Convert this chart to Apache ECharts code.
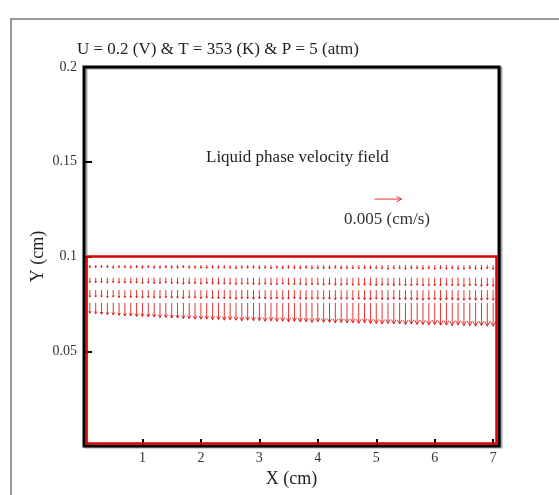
<!DOCTYPE html>
<html>
<head>
<meta charset="utf-8">
<script src="https://cdn.jsdelivr.net/npm/echarts@6/dist/echarts.min.js"></script>
<style>
    html, body { margin: 0; background: #fff; }
    #main { width: 559px; height: 495px; }
</style>
</head>
<body>
<div id="main"></div>
<script>
// vector columns (cm)
const colX = [
    0.1, 0.2, 0.3, 0.4, 0.5, 0.6, 0.7, 0.8, 0.9, 1.0,
    1.1, 1.2, 1.3, 1.4, 1.5, 1.6, 1.7, 1.8, 1.9, 2.0,
    2.1, 2.2, 2.3, 2.4, 2.5, 2.6, 2.7, 2.8, 2.9, 3.0,
    3.1, 3.2, 3.3, 3.4, 3.5, 3.6, 3.7, 3.8, 3.9, 4.0,
    4.1, 4.2, 4.3, 4.4, 4.5, 4.6, 4.7, 4.8, 4.9, 5.0,
    5.1, 5.2, 5.3, 5.4, 5.5, 5.6, 5.7, 5.8, 5.9, 6.0,
    6.1, 6.2, 6.3, 6.4, 6.5, 6.6, 6.7, 6.8, 6.9, 7.0
];
// vector rows (cm)
const rowY = [0.0955, 0.0888, 0.0823, 0.0755];

// downward velocity per row, in 1e-4 cm/s
const vRow1 = [
    5, 5, 5, 5, 6, 5, 5, 6, 5, 6,
    5, 6, 6, 5, 6, 6, 5, 6, 6, 6,
    6, 6, 6, 6, 6, 7, 6, 6, 6, 7,
    6, 7, 6, 7, 6, 7, 7, 6, 7, 7,
    7, 7, 6, 7, 7, 7, 7, 7, 7, 7,
    7, 8, 7, 7, 8, 7, 7, 8, 7, 8,
    7, 8, 7, 8, 8, 7, 8, 8, 7, 8
];
const vRow2 = [
    9, 9, 9, 10, 9, 10, 10, 10, 10, 11,
    10, 11, 11, 10, 11, 11, 12, 11, 11, 12,
    11, 12, 12, 12, 12, 13, 12, 12, 13, 13,
    12, 13, 13, 12, 13, 13, 13, 14, 13, 13,
    14, 13, 14, 14, 13, 14, 14, 14, 14, 15,
    14, 14, 15, 14, 15, 15, 14, 15, 15, 15,
    15, 14, 15, 15, 16, 15, 15, 16, 15, 16
];
const vRow3 = [
    13, 13, 13, 14, 13, 14, 14, 14, 14, 15,
    14, 15, 15, 14, 15, 15, 16, 15, 15, 16,
    15, 16, 16, 16, 16, 17, 16, 16, 17, 16,
    16, 17, 16, 17, 17, 16, 17, 17, 17, 17,
    17, 17, 18, 17, 17, 18, 17, 18, 18, 17,
    18, 18, 17, 18, 18, 18, 18, 19, 18, 18,
    19, 18, 18, 19, 19, 18, 19, 19, 18, 19
];
const vRow4 = [
    19, 20, 21, 22, 22, 23, 24, 24, 25, 25,
    26, 26, 27, 27, 28, 28, 29, 29, 30, 30,
    30, 31, 31, 32, 31, 32, 33, 32, 33, 33,
    34, 33, 34, 34, 35, 34, 35, 35, 36, 35,
    36, 36, 37, 36, 37, 37, 38, 37, 38, 38,
    39, 38, 39, 39, 40, 39, 40, 40, 41, 40,
    41, 41, 42, 41, 42, 42, 43, 42, 43, 43
];
const vRows = [vRow1, vRow2, vRow3, vRow4];

// reference vector: x, y, u, v
const refVector = [4.97, 0.1303, 0.005, 0];

const domainX = [0, 7.1];
const domainY = [0, 0.1];

const xTicks = [1, 2, 3, 4, 5, 6, 7];
const yTicks = [0.05, 0.1, 0.15];
const yLabels = [0.05, 0.1, 0.15, 0.2];

const PX_PER_VEL = 27 / 0.005;   // 0.005 cm/s reference arrow = 27 px
const RED = 'rgba(220, 0, 0, 0.8)';
const FONT = 'Liberation Serif';

const vectors = [];
rowY.forEach(function (y, r) {
    colX.forEach(function (x, i) {
        vectors.push([x, y, 0, -vRows[r][i] * 1e-4]);
    });
});

function renderArrow(params, api) {
    const p = api.coord([api.value(0), api.value(1)]);
    const dx = api.value(2) * PX_PER_VEL;
    const dy = -api.value(3) * PX_PER_VEL;
    const len = Math.sqrt(dx * dx + dy * dy);
    const ux = dx / len, uy = dy / len;
    const tx = p[0] + dx, ty = p[1] + dy;
    const h = Math.max(1.5, Math.min(5, len * 0.2));
    const w = h * 0.55;
    const style = { stroke: RED, fill: null, lineWidth: 1 };
    return {
        type: 'group',
        children: [
            { type: 'line', shape: { x1: p[0], y1: p[1], x2: tx, y2: ty }, style: style },
            {
                type: 'polyline',
                shape: {
                    points: [
                        [tx - ux * h - uy * w, ty - uy * h + ux * w],
                        [tx, ty],
                        [tx - ux * h + uy * w, ty - uy * h - ux * w]
                    ]
                },
                style: style
            }
        ]
    };
}

// red domain boundary, drawn just inside the black frame
function renderDomain(params, api) {
    const a = api.coord([domainX[0], domainY[0]]);
    const b = api.coord([domainX[1], domainY[1]]);
    const inset = 2.5;
    return {
        type: 'polyline',
        shape: {
            points: [
                [a[0] + inset, b[1]],
                [b[0] - inset, b[1]],
                [b[0] - inset, a[1] - inset],
                [a[0] + inset, a[1] - inset],
                [a[0] + inset, b[1]]
            ]
        },
        style: { stroke: '#d80000', fill: null, lineWidth: 2.5 }
    };
}

const chart = echarts.init(document.getElementById('main'));

chart.setOption({
    animation: false,
    backgroundColor: '#fff',
    textStyle: { fontFamily: FONT },
    grid: {
        left: 84,
        top: 67,
        right: 60,
        bottom: 49,
        outerBoundsMode: 'none',
        containLabel: false,
        show: true,
        backgroundColor: '#fff',
        borderColor: '#000',
        borderWidth: 3,
        shadowColor: 'rgba(0,0,0,0.35)',
        shadowOffsetX: 2,
        shadowOffsetY: 1,
        shadowBlur: 0
    },
    xAxis: {
        type: 'value',
        min: domainX[0],
        max: domainX[1],
        interval: 1,
        name: 'X (cm)',
        nameLocation: 'middle',
        nameGap: 24,
        nameMoveOverlap: false,
        nameTextStyle: { fontFamily: FONT, fontSize: 18, color: '#222' },
        splitLine: { show: false },
        axisLine: { show: false },
        axisTick: {
            inside: true,
            length: 7,
            customValues: xTicks,
            lineStyle: { color: '#000', width: 2 }
        },
        axisLabel: {
            customValues: xTicks,
            margin: 5,
            fontFamily: FONT,
            fontSize: 14,
            color: '#333'
        }
    },
    yAxis: {
        type: 'value',
        min: 0,
        max: 0.2,
        interval: 0.05,
        name: 'Y (cm)',
        nameLocation: 'middle',
        nameGap: 37,
        nameMoveOverlap: false,
        nameRotate: 90,
        nameTextStyle: { fontFamily: FONT, fontSize: 18, color: '#222' },
        splitLine: { show: false },
        axisLine: { show: false },
        axisTick: {
            inside: true,
            length: 8,
            customValues: yTicks,
            lineStyle: { color: '#000', width: 2 }
        },
        axisLabel: {
            customValues: yLabels,
            margin: 7,
            fontFamily: FONT,
            fontSize: 14,
            color: '#333'
        }
    },
    graphic: [
        {
            type: 'polyline',
            shape: { points: [[11, 495], [11, 19], [559, 19]] },
            style: { stroke: '#777', lineWidth: 1.5, fill: null },
            silent: true
        },
        {
            type: 'text',
            left: 77,
            top: 41,
            style: {
                text: 'U = 0.2 (V) & T = 353 (K) & P = 5 (atm)',
                font: '17px "Liberation Serif"',
                fill: '#222'
            }
        },
        {
            type: 'text',
            left: 206,
            top: 149,
            style: {
                text: 'Liquid phase velocity field',
                font: '17px "Liberation Serif"',
                fill: '#222'
            }
        },
        {
            type: 'text',
            left: 344,
            top: 211,
            style: {
                text: '0.005 (cm/s)',
                font: '17px "Liberation Serif"',
                fill: '#333'
            }
        }
    ],
    series: [
        {
            name: 'domain',
            type: 'custom',
            renderItem: renderDomain,
            data: [[domainX[0], domainY[0]]],
            clip: false,
            z: 1
        },
        {
            name: 'velocity',
            type: 'custom',
            renderItem: renderArrow,
            data: vectors,
            clip: false,
            z: 2
        },
        {
            name: 'reference',
            type: 'custom',
            renderItem: renderArrow,
            data: [refVector],
            clip: false,
            z: 2
        }
    ]
});
</script>
</body>
</html>
